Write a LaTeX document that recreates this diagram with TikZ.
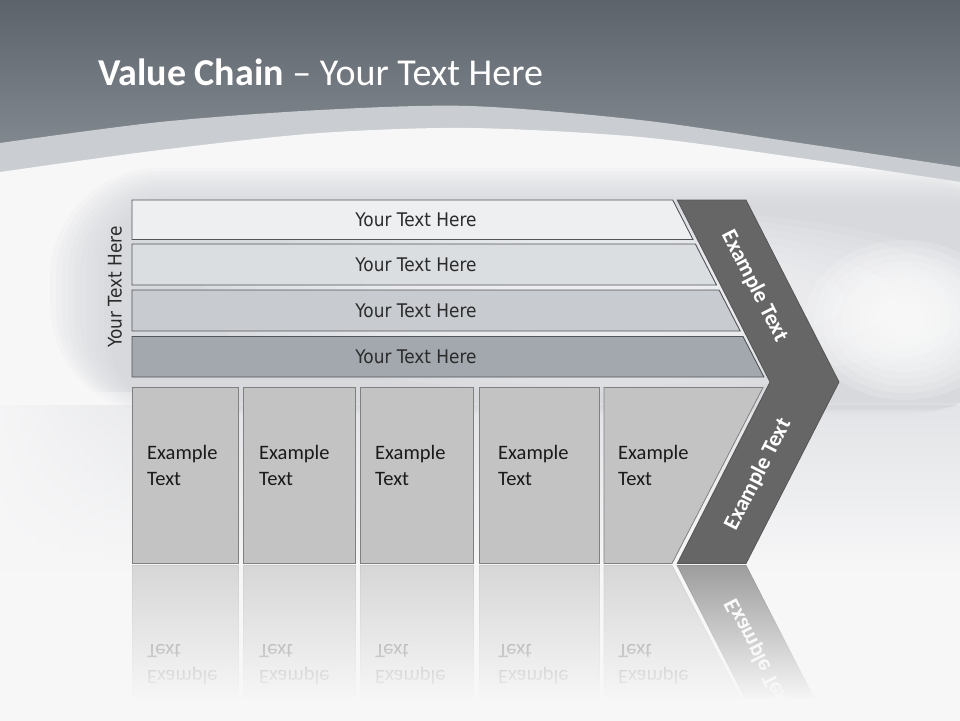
\documentclass[tikz,border=0pt]{standalone}
\usepackage{fontspec}
\setmainfont{Carlito}
\newfontfamily\tahfont[FakeStretch=0.9]{DejaVu Sans}
\usetikzlibrary{fadings}
\tikzfading[name=reflfade, top color=transparent!62, bottom color=transparent!0]
\tikzfading[name=leftfade, left color=transparent!10, right color=transparent!100]
\definecolor{topA}{HTML}{5D636B}
\definecolor{topB}{HTML}{8E969C}
\definecolor{band}{HTML}{CACDD1}
\definecolor{bg}{HTML}{F7F7F8}
\definecolor{bgB}{HTML}{E3E4E7}
\definecolor{bowlc}{HTML}{CDCFD4}
\definecolor{barA}{HTML}{EEEFF1}
\definecolor{barB}{HTML}{DBDEE1}
\definecolor{barC}{HTML}{C8CBCF}
\definecolor{barD}{HTML}{A2A8AE}
\definecolor{barline}{HTML}{50555A}
\definecolor{bartxt}{HTML}{2B2B2B}
\definecolor{boxfill}{HTML}{C3C3C3}
\definecolor{boxline}{HTML}{808080}
\definecolor{boxtxt}{HTML}{1A1A1A}
\definecolor{chev}{HTML}{666666}
\definecolor{chevline}{HTML}{555555}
\tikzset{
  barshape/.style={draw=barline, line width=0.9pt},
  bartext/.style={font=\tahfont\fontsize{18.8}{22}\selectfont, text=bartxt, inner sep=0pt},
  boxshape/.style={fill=boxfill, draw=boxline, line width=0.8pt},
  boxtext/.style={font=\fontsize{20.5}{26}\selectfont, text=boxtxt, align=left, anchor=base west, inner sep=0pt},
  chevshape/.style={fill=chev, draw=chevline, line width=0.8pt},
  chevtext/.style={font=\bfseries\fontsize{22.3}{26}\selectfont, text=white, inner sep=0pt},
  reflbox/.style={fill=boxfill, draw=boxline!60!white, line width=0.8pt},
}
\begin{document}
\begin{tikzpicture}[x=1pt,y=-1pt]
\clip (0,0) rectangle (960,720);
% ---- background ----
\shade[top color=topA, bottom color=topB] (0,0) rectangle (960,200);
\fill[band] plot[smooth] coordinates {(0,143) (160,122) (320,110) (470,106) (640,120) (800,143) (960,167)} -- (960,720) -- (0,720) -- cycle;
\fill[bg] plot[smooth] coordinates {(0,172) (160,150) (320,133) (470,128) (640,137) (800,158) (960,182)} -- (960,720) -- (0,720) -- cycle;
\begin{scope}
\clip plot[smooth] coordinates {(0,172) (160,150) (320,133) (470,128) (640,137) (800,158) (960,182)} -- (960,720) -- (0,720) -- cycle;
% base under the dish
\shade[top color=bgB, bottom color=bg] (0,405) rectangle (960,575);
% dish with soft rim
\foreach \i [evaluate=\i as \l using 50+6*\i, evaluate=\i as \t using 168+3.5*\i, evaluate=\i as \b using 414-1.2*\i, evaluate=\i as \r using 110-5*\i] in {0,...,10}
  \fill[bowlc, opacity=0.09, rounded corners=\r pt] (\l,\t) rectangle (1020,\b);
% lighter interior
\foreach \i [evaluate=\i as \rx using 400-26*\i, evaluate=\i as \ry using 92-6*\i] in {0,...,11}
  \fill[white, opacity=0.09] (600,300) ellipse [x radius=\rx pt, y radius=\ry pt];
\foreach \i [evaluate=\i as \rx using 100-9*\i, evaluate=\i as \ry using 80-7*\i] in {0,...,9}
  \fill[white, opacity=0.16] (905,320) ellipse [x radius=\rx pt, y radius=\ry pt];
% soften the lower left
\fill[bg, path fading=leftfade] (0,392) rectangle (230,580);
\end{scope}
% ---- title ----
\node[anchor=base west, inner sep=0pt, text=white, font=\fontsize{38}{44}\selectfont] (title) at (98,85) {\textbf{Value Chain} – Your Text Here};
% ---- reflection ----
\begin{scope}[shift={(0,1129)}, yscale=-1]
  \fill[reflbox] (132,387.5) rectangle (238,563.5);
  \fill[reflbox] (243,387.5) rectangle (355,563.5);
  \fill[reflbox] (360,387.5) rectangle (473,563.5);
  \fill[reflbox] (479,387.5) rectangle (599,563.5);
  \fill[reflbox] (604,387.5) -- (763,387.5) -- (672,563.5) -- (604,563.5) -- cycle;
  \fill[chevshape] (770,382) -- (839,382) -- (746,563.5) -- (677.3,563.5) -- cycle;
  \node[boxtext, yscale=-1] (r1) at (147,485) {Example\\Text};
  \node[boxtext, yscale=-1] (r2) at (259,485) {Example\\Text};
  \node[boxtext, yscale=-1] (r3) at (375,485) {Example\\Text};
  \node[boxtext, yscale=-1] (r4) at (498,485) {Example\\Text};
  \node[boxtext, yscale=-1] (r5) at (618,485) {Example\\Text};
  \node[chevtext, yscale=-1, rotate=63] (rc) at (758,474.5) {Example Text};
\end{scope}
\fill[bg, path fading=reflfade] (0,565) rectangle (960,700);
\fill[bg] (0,699) rectangle (960,760);
% ---- bars ----
\filldraw[barshape, fill=barA] (132,200) -- (672.7,200) -- (693.0,239.5) -- (132,239.5) -- cycle;
\filldraw[barshape, fill=barB] (132,244) -- (695.4,244) -- (716.5,285) -- (132,285) -- cycle;
\filldraw[barshape, fill=barC] (132,290) -- (719.1,290) -- (740.2,331) -- (132,331) -- cycle;
\filldraw[barshape, fill=barD] (132,336.5) -- (743.0,336.5) -- (763.9,377) -- (132,377) -- cycle;
\node[bartext] (b1) at (416,219.5) {Your Text Here};
\node[bartext] (b2) at (416,265) {Your Text Here};
\node[bartext] (b3) at (416,310.5) {Your Text Here};
\node[bartext] (b4) at (416,357) {Your Text Here};
\node[bartext, rotate=90] (side) at (115,287) {Your Text Here};
% ---- boxes ----
\filldraw[boxshape] (132,387.5) rectangle (238,563.5);
\filldraw[boxshape] (243,387.5) rectangle (355,563.5);
\filldraw[boxshape] (360,387.5) rectangle (473,563.5);
\filldraw[boxshape] (479,387.5) rectangle (599,563.5);
\filldraw[boxshape] (604,387.5) -- (763,387.5) -- (672,563.5) -- (604,563.5) -- cycle;
\node[boxtext] (t1) at (147,485) {Example\\Text};
\node[boxtext] (t2) at (259,485) {Example\\Text};
\node[boxtext] (t3) at (375,485) {Example\\Text};
\node[boxtext] (t4) at (498,485) {Example\\Text};
\node[boxtext] (t5) at (618,485) {Example\\Text};
% ---- chevron ----
\filldraw[chevshape] (677.3,200) -- (746,200) -- (839,382) -- (746,563.5) -- (677.3,563.5) -- (770,382) -- cycle;
\node[chevtext, rotate=-63] (c1) at (754.5,286) {Example Text};
\node[chevtext, rotate=63] (c2) at (758,474.5) {Example Text};
\end{tikzpicture}
\end{document}
